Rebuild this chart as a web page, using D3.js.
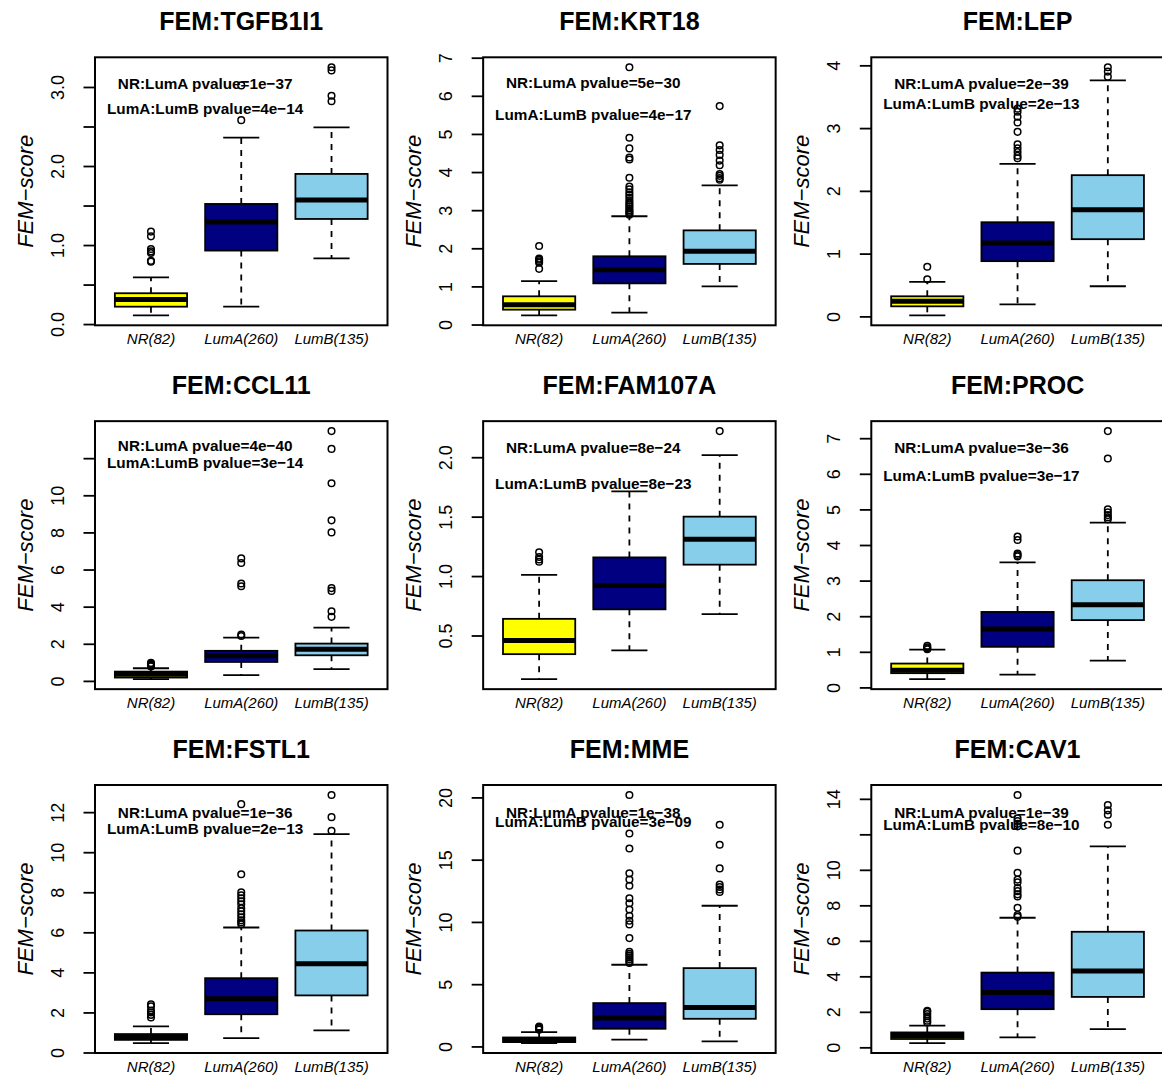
<!DOCTYPE html>
<html>
<head>
<meta charset="utf-8">
<script src="https://cdnjs.cloudflare.com/ajax/libs/d3/7.8.5/d3.min.js"></script>
<style>
  body { margin: 0; background: #fff; }
  svg { display: block; }
  text { font-family: "Liberation Sans", Arial, Helvetica, sans-serif; fill: #000; }
</style>
</head>
<body>
<svg id="chart" width="1162" height="1077"></svg>
<script>
// Subtype groups along the x axis and their box colours
const groups = ["NR(82)", "LumA(260)", "LumB(135)"];
const groupColors = ["#FFFF00", "#000080", "#87CEEB"];

// One panel per gene module
const titles = ["FEM:TGFB1I1", "FEM:KRT18", "FEM:LEP",
                "FEM:CCL11", "FEM:FAM107A", "FEM:PROC",
                "FEM:FSTL1", "FEM:MME", "FEM:CAV1"];

// Box statistics per panel: [lower whisker, Q1, median, Q3, upper whisker]
const nrStats = [
  [0.11, 0.22, 0.31, 0.39, 0.59],
  [0.24, 0.39, 0.52, 0.74, 1.14],
  [0.016, 0.16, 0.24, 0.32, 0.55],
  [0.09, 0.18, 0.36, 0.50, 0.68],
  [0.132, 0.343, 0.458, 0.64, 1.01],
  [0.23, 0.40, 0.48, 0.67, 1.06],
  [0.47, 0.63, 0.77, 0.92, 1.30],
  [0.27, 0.35, 0.54, 0.72, 1.15],
  [0.24, 0.47, 0.66, 0.84, 1.22]
];
const lumAStats = [
  [0.22, 0.93, 1.29, 1.52, 2.36],
  [0.31, 1.08, 1.44, 1.79, 2.84],
  [0.19, 0.88, 1.17, 1.50, 2.43],
  [0.31, 1.02, 1.35, 1.62, 2.33],
  [0.374, 0.72, 0.92, 1.157, 1.713],
  [0.36, 1.14, 1.64, 2.12, 3.51],
  [0.72, 1.91, 2.68, 3.71, 6.24],
  [0.54, 1.42, 2.28, 3.48, 6.56],
  [0.56, 2.15, 3.09, 4.21, 7.30]
];
const lumBStats = [
  [0.83, 1.33, 1.57, 1.90, 2.49],
  [1.00, 1.59, 1.92, 2.47, 3.65],
  [0.48, 1.23, 1.70, 2.25, 3.76],
  [0.63, 1.38, 1.71, 2.01, 2.87],
  [0.68, 1.096, 1.31, 1.50, 2.017],
  [0.75, 1.89, 2.32, 3.01, 4.63],
  [1.10, 2.85, 4.43, 6.09, 10.9],
  [0.40, 2.22, 3.13, 6.29, 11.3],
  [1.03, 2.84, 4.30, 6.51, 11.32]
];

// Outlying scores per panel
const nrOutliers = [
  [1.17, 1.11, 0.95, 0.92, 0.90, 0.80, 0.79],
  [2.06, 1.73, 1.70, 1.66, 1.62, 1.46],
  [0.59, 0.79],
  [0.78, 0.82, 0.87, 0.92, 0.97],
  [1.12, 1.14, 1.16, 1.20],
  [1.07, 1.10, 1.13, 1.17],
  [1.75, 1.88, 2.00, 2.10, 2.30, 2.40],
  [1.35, 1.45, 1.52, 1.60],
  [1.40, 1.50, 1.62, 1.75, 1.87, 2.00, 2.06]
];
const lumAOutliers = [
  [2.58, 3.02],
  [2.88, 2.92, 2.96, 3.00, 3.05, 3.10, 3.15, 3.20, 3.26, 3.33, 3.40, 3.47, 3.55, 3.62, 3.85, 4.33, 4.38, 4.62, 4.90, 6.75],
  [2.52, 2.56, 2.62, 2.68, 2.74, 2.94, 3.09, 3.18, 3.26, 3.31],
  [2.42, 2.50, 5.10, 5.25, 6.35, 6.60],
  [],
  [3.68, 3.72, 3.76, 4.14, 4.24],
  [6.40, 6.50, 6.60, 6.75, 6.90, 7.05, 7.20, 7.40, 7.55, 7.70, 7.85, 8.00, 8.90, 12.40],
  [6.70, 6.85, 7.00, 7.15, 7.30, 7.45, 7.60, 8.70, 9.80, 10.10, 10.50, 11.00, 11.50, 11.90, 12.90, 13.40, 13.90, 15.90, 17.10, 20.20],
  [7.35, 7.45, 7.86, 8.50, 8.62, 8.80, 8.98, 9.30, 9.45, 9.83, 11.08, 12.45, 12.60, 12.75, 12.90, 14.22]
];
const lumBOutliers = [
  [2.82, 2.89, 3.21, 3.25],
  [3.80, 3.84, 3.90, 3.95, 4.18, 4.30, 4.45, 4.58, 4.70, 5.73],
  [3.82, 3.90, 3.97],
  [3.45, 3.75, 4.85, 5.00, 8.00, 8.65, 10.65, 12.50, 13.46],
  [2.22],
  [4.72, 4.78, 4.84, 4.92, 5.00, 6.43, 7.20],
  [11.07, 11.75, 12.86],
  [12.40, 12.60, 12.80, 13.00, 14.30, 16.20, 17.80],
  [12.54, 13.10, 13.35, 13.65]
];

// Y axis ticks and their labels (blank where no label is printed)
const yTickValues = [
  [0, 0.5, 1, 1.5, 2, 2.5, 3],
  [0, 1, 2, 3, 4, 5, 6, 7],
  [0, 1, 2, 3, 4],
  [0, 2, 4, 6, 8, 10, 12],
  [0.5, 1, 1.5, 2],
  [0, 1, 2, 3, 4, 5, 6, 7],
  [0, 2, 4, 6, 8, 10, 12],
  [0, 5, 10, 15, 20],
  [0, 2, 4, 6, 8, 10, 12, 14]
];
const yTickLabels = [
  ["0.0", "", "1.0", "", "2.0", "", "3.0"],
  ["0", "1", "2", "3", "4", "5", "6", "7"],
  ["0", "1", "2", "3", "4"],
  ["0", "2", "4", "6", "8", "10", ""],
  ["0.5", "1.0", "1.5", "2.0"],
  ["0", "1", "2", "3", "4", "5", "6", "7"],
  ["0", "2", "4", "6", "8", "10", "12"],
  ["0", "5", "10", "15", "20"],
  ["0", "2", "4", "6", "8", "10", "", "14"]
];

// Pairwise test results printed inside each panel
const pNRvsLumA = ["1e\u221237", "5e\u221230", "2e\u221239", "4e\u221240", "8e\u221224", "3e\u221236", "1e\u221236", "1e\u221238", "1e\u221239"];
const pLumAvsLumB = ["4e\u221214", "4e\u221217", "2e\u221213", "3e\u221214", "8e\u221223", "3e\u221217", "2e\u221213", "3e\u221209", "8e\u221210"];
// Heights (in score units) at which the two test lines are written
const noteYUpper = [3.04, 6.34, 3.71, 12.66, 2.08, 6.74, 12.0, 18.82, 13.25];
const noteYLower = [2.73, 5.51, 3.39, 11.76, 1.78, 5.96, 11.2, 18.07, 12.54];

const svg = d3.select("#chart");
svg.append("rect").attr("width", 1162).attr("height", 1077).attr("fill", "#fff");

const plotW = 292.5, plotH = 268;
const colStep = 388.15, rowStep = 363.85;
const firstLeft = 95, firstTop = 57.3;
const statsByGroup = [nrStats, lumAStats, lumBStats];
const outliersByGroup = [nrOutliers, lumAOutliers, lumBOutliers];

titles.forEach((title, p) => {
  const col = p % 3, row = Math.floor(p / 3);
  const left = firstLeft + col * colStep;
  const top = firstTop + row * rowStep;

  // base-graphics style axis extents: 4% padding around the data range
  const vals = [];
  statsByGroup.forEach(s => vals.push(s[p][0], s[p][4]));
  outliersByGroup.forEach(o => vals.push(...o[p]));
  const lo = d3.min(vals), hi = d3.max(vals);
  const pad = 0.04 * (hi - lo);

  const x = d3.scaleLinear().domain([0.38, 3.62]).range([left, left + plotW]);
  const y = d3.scaleLinear().domain([lo - pad, hi + pad]).range([top + plotH, top]);

  const g = svg.append("g");

  // y axis with rotated labels
  const labels = yTickLabels[p];
  const axis = d3.axisLeft(y)
    .tickValues(yTickValues[p])
    .tickSize(11.5)
    .tickFormat((d, i) => labels[i]);
  const ax = g.append("g").attr("transform", `translate(${left},0)`).call(axis);
  ax.select(".domain").remove();
  ax.selectAll(".tick line").attr("stroke", "#000").attr("stroke-width", 1.8);
  ax.selectAll(".tick text")
    .attr("x", null).attr("dy", null)
    .attr("transform", "translate(-31,0) rotate(-90)")
    .attr("text-anchor", "middle")
    .style("font-size", "18px")
    .style("font-family", '"Liberation Sans", Arial, sans-serif')
    .attr("fill", "#000");

  // boxes
  groups.forEach((name, gi) => {
    const [wLo, q1, med, q3, wHi] = statsByGroup[gi][p];
    const cx = gi + 1;
    const bg = g.append("g");
    // dashed whiskers
    bg.append("line")
      .attr("x1", x(cx)).attr("x2", x(cx))
      .attr("y1", y(q3)).attr("y2", y(wHi))
      .attr("stroke", "#000").attr("stroke-width", 1.8).attr("stroke-dasharray", "6,6");
    bg.append("line")
      .attr("x1", x(cx)).attr("x2", x(cx))
      .attr("y1", y(q1)).attr("y2", y(wLo))
      .attr("stroke", "#000").attr("stroke-width", 1.8).attr("stroke-dasharray", "6,6");
    // staples
    [wLo, wHi].forEach(v => {
      bg.append("line")
        .attr("x1", x(cx - 0.2)).attr("x2", x(cx + 0.2))
        .attr("y1", y(v)).attr("y2", y(v))
        .attr("stroke", "#000").attr("stroke-width", 1.8);
    });
    // box
    bg.append("rect")
      .attr("x", x(cx - 0.4)).attr("width", x(cx + 0.4) - x(cx - 0.4))
      .attr("y", y(q3)).attr("height", y(q1) - y(q3))
      .attr("fill", groupColors[gi])
      .attr("stroke", "#000").attr("stroke-width", 1.8);
    // median
    bg.append("line")
      .attr("x1", x(cx - 0.4)).attr("x2", x(cx + 0.4))
      .attr("y1", y(med)).attr("y2", y(med))
      .attr("stroke", "#000").attr("stroke-width", 5);
    // outliers
    bg.selectAll("circle").data(outliersByGroup[gi][p]).join("circle")
      .attr("cx", x(cx)).attr("cy", d => y(d)).attr("r", 3.3)
      .attr("fill", "none").attr("stroke", "#000").attr("stroke-width", 1.5);
    // group label
    g.append("text")
      .attr("x", x(cx)).attr("y", top + plotH + 19)
      .attr("text-anchor", "middle")
      .style("font-size", "15px").style("font-style", "italic")
      .text(name);
  });

  // test annotations
  g.append("text")
    .attr("x", x(1.6)).attr("y", y(noteYUpper[p])).attr("dy", "0.36em")
    .attr("text-anchor", "middle")
    .style("font-size", "15.3px").style("font-weight", "bold")
    .text(`NR:LumA pvalue=${pNRvsLumA[p]}`);
  g.append("text")
    .attr("x", x(1.6)).attr("y", y(noteYLower[p])).attr("dy", "0.36em")
    .attr("text-anchor", "middle")
    .style("font-size", "15.3px").style("font-weight", "bold")
    .text(`LumA:LumB pvalue=${pLumAvsLumB[p]}`);

  // frame
  g.append("rect")
    .attr("x", left).attr("y", top).attr("width", plotW).attr("height", plotH)
    .attr("fill", "none").attr("stroke", "#000").attr("stroke-width", 2);

  // title
  g.append("text")
    .attr("x", left + plotW / 2).attr("y", top - 27)
    .attr("text-anchor", "middle")
    .style("font-size", "25px").style("font-weight", "bold")
    .text(title);

  // y axis title
  g.append("text")
    .attr("transform", `translate(${left - 62},${top + plotH / 2}) rotate(-90)`)
    .attr("text-anchor", "middle")
    .style("font-size", "22px").style("font-style", "italic")
    .text("FEM\u2212score");
});
</script>
</body>
</html>
